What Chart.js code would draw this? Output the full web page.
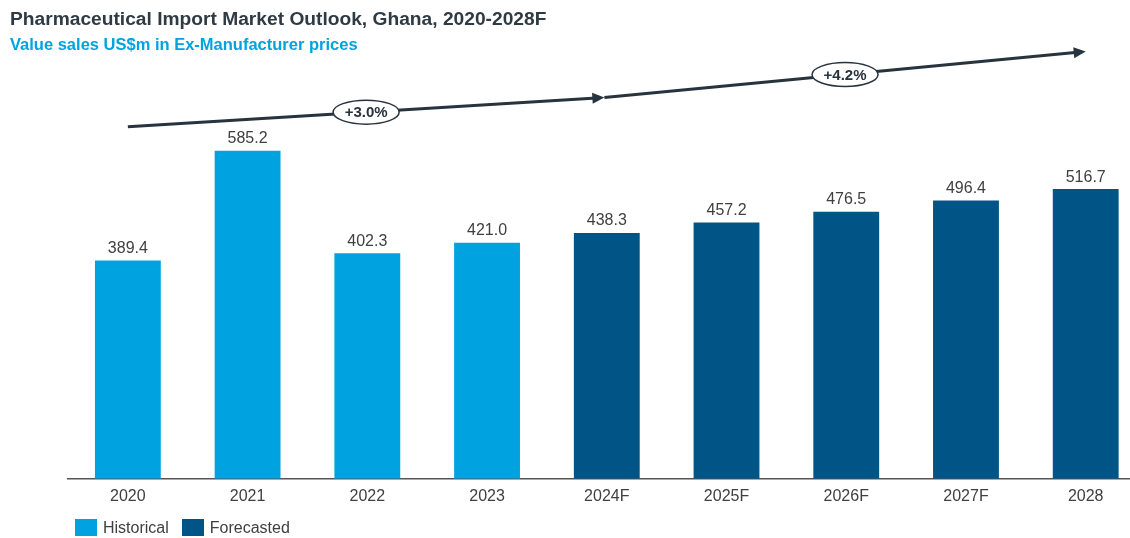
<!DOCTYPE html>
<html>
<head>
<meta charset="utf-8">
<script src="https://cdn.jsdelivr.net/npm/chart.js@4.4.0/dist/chart.umd.min.js"></script>
<style>
	body { margin: 0; background: #fff; font-family: "Liberation Sans", Arial, sans-serif; }
	#wrap { position: relative; width: 1130px; height: 538px; overflow: hidden; }
	#chartBox { position: absolute; left: 0; top: 0; width: 1130px; height: 538px; }
	#title { position: absolute; left: 10px; top: 8px; font-size: 19.2px; font-weight: bold; color: #2e3a44; white-space: nowrap; }
	#subtitle { position: absolute; left: 10px; top: 35px; font-size: 16.5px; font-weight: bold; color: #00a3e0; white-space: nowrap; }
	#legend { position: absolute; left: 75px; top: 519px; font-size: 16px; color: #404040; white-space: nowrap; }
	#legend .item { display: inline-block; margin-right: 13px; }
	#legend .box { display: inline-block; width: 22px; height: 17px; vertical-align: -3px; margin-right: 6px; }
</style>
</head>
<body>
<div id="wrap">
	<div id="chartBox"><canvas id="importChart"></canvas></div>
	<div id="title">Pharmaceutical Import Market Outlook, Ghana, 2020-2028F</div>
	<div id="subtitle">Value sales US$m in Ex-Manufacturer prices</div>
	<div id="legend"></div>
</div>
<script>
var years = ["2020", "2021", "2022", "2023", "2024F", "2025F", "2026F", "2027F", "2028"];
var salesValues = [389.4, 585.2, 402.3, 421.0, 438.3, 457.2, 476.5, 496.4, 516.7];
var isForecast = [false, false, false, false, true, true, true, true, true];
var seriesNames = ["Historical", "Forecasted"];
var seriesColors = ["#00a3e0", "#005587"];

// CAGR arrows: start/end as category index and value
var cagrLabels = ["+3.0%", "+4.2%"];
var cagrFromIndex = [0, 3.98];
var cagrToIndex = [3.98, 8];
var cagrFromValue = [628, 680];
var cagrToValue = [680, 762];

document.addEventListener("DOMContentLoaded", function () {
	var legendBox = document.getElementById("legend");
	seriesNames.forEach(function (name, i) {
		var item = document.createElement("span");
		item.className = "item";
		item.innerHTML = '<span class="box" style="background:' + seriesColors[i] + '"></span>' + name;
		legendBox.appendChild(item);
	});

	Chart.defaults.font.family = '"Liberation Sans", Arial, sans-serif';

	var valueLabels = {
		id: "valueLabels",
		afterDatasetsDraw: function (chart) {
			var ctx = chart.ctx;
			var meta = chart.getDatasetMeta(0);
			ctx.save();
			ctx.font = "16px 'Liberation Sans', Arial, sans-serif";
			ctx.fillStyle = "#404040";
			ctx.textAlign = "center";
			ctx.textBaseline = "bottom";
			meta.data.forEach(function (bar, i) {
				ctx.fillText(salesValues[i].toFixed(1), bar.x, bar.y - 4);
			});
			ctx.restore();
		}
	};

	var cagrArrows = {
		id: "cagrArrows",
		afterDraw: function (chart) {
			var ctx = chart.ctx;
			var xs = chart.scales.x;
			var ys = chart.scales.y;
			ctx.save();
			cagrLabels.forEach(function (label, i) {
				var x1 = xs.getPixelForValue(cagrFromIndex[i]);
				var y1 = ys.getPixelForValue(cagrFromValue[i]);
				var x2 = xs.getPixelForValue(cagrToIndex[i]);
				var y2 = ys.getPixelForValue(cagrToValue[i]);
				var ang = Math.atan2(y2 - y1, x2 - x1);
				ctx.strokeStyle = "#27333d";
				ctx.fillStyle = "#27333d";
				ctx.lineWidth = 3;
				ctx.beginPath();
				ctx.moveTo(x1, y1);
				ctx.lineTo(x2 - 8 * Math.cos(ang), y2 - 8 * Math.sin(ang));
				ctx.stroke();
				ctx.save();
				ctx.translate(x2, y2);
				ctx.rotate(ang);
				ctx.beginPath();
				ctx.moveTo(0, 0);
				ctx.lineTo(-12, -5.5);
				ctx.lineTo(-12, 5.5);
				ctx.closePath();
				ctx.fill();
				ctx.restore();

				var mx = (x1 + x2) / 2;
				var my = (y1 + y2) / 2;
				ctx.beginPath();
				ctx.ellipse(mx, my, 33, 12, 0, 0, Math.PI * 2);
				ctx.fillStyle = "#ffffff";
				ctx.fill();
				ctx.lineWidth = 1.5;
				ctx.stroke();
				ctx.fillStyle = "#27333d";
				ctx.font = "bold 15px 'Liberation Sans', Arial, sans-serif";
				ctx.textAlign = "center";
				ctx.textBaseline = "middle";
				ctx.fillText(label, mx, my + 1);
			});
			ctx.restore();
		}
	};

	var importChart = new Chart(document.getElementById("importChart").getContext("2d"), {
		type: "bar",
		data: {
			datasets: [
				{
					label: "Value sales",
					data: years.map(function (y, i) { return { x: i, y: salesValues[i] }; }),
					backgroundColor: isForecast.map(function (f) { return f ? seriesColors[1] : seriesColors[0]; }),
					barPercentage: 0.55,
					categoryPercentage: 1
				}
			]
		},
		options: {
			responsive: true,
			maintainAspectRatio: false,
			animation: false,
			layout: { padding: { left: 68, top: 60, right: 0, bottom: 32 } },
			plugins: {
				legend: { display: false },
				tooltip: { enabled: false },
				title: { display: false }
			},
			scales: {
				x: {
					type: "linear",
					offset: false,
					min: -0.5,
					max: 8.37,
					grid: { display: false },
					border: { display: true, color: "#555555", width: 1.5 },
					ticks: {
						stepSize: 1,
						includeBounds: false,
						autoSkip: false,
						maxRotation: 0,
						padding: 0,
						color: "#404040",
						font: { size: 16 },
						callback: function (v) {
							return Number.isInteger(v) && years[v] !== undefined ? years[v] : "";
						}
					}
				},
				y: {
					display: false,
					min: 0,
					max: 747
				}
			}
		},
		plugins: [valueLabels, cagrArrows]
	});
});
</script>
</body>
</html>
